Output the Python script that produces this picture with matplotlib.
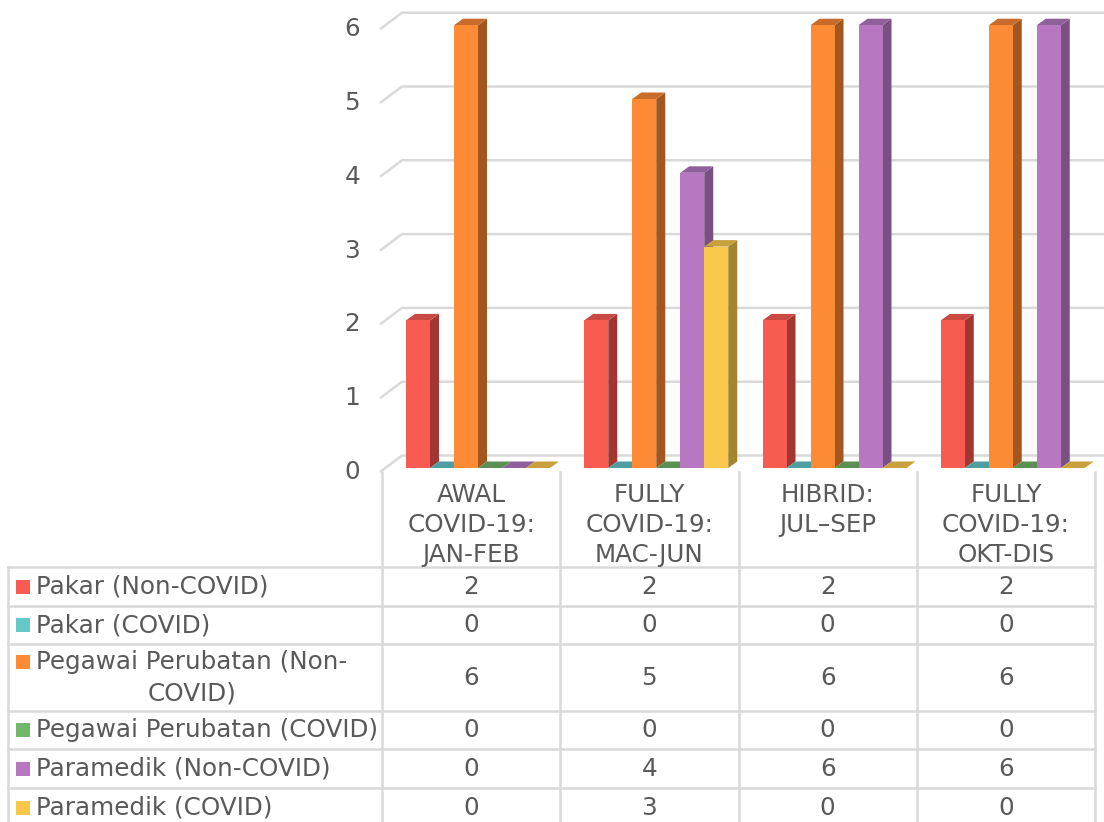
import matplotlib
matplotlib.use("Agg")
import matplotlib.pyplot as plt
from matplotlib.patches import Polygon, Rectangle

# ---------------- data ----------------
categories = ["AWAL\nCOVID-19:\nJAN-FEB", "FULLY\nCOVID-19:\nMAC-JUN",
              "HIBRID:\nJUL–SEP", "FULLY\nCOVID-19:\nOKT-DIS"]
series_names = ["Pakar (Non-COVID)", "Pakar (COVID)",
                "Pegawai Perubatan (Non-\nCOVID)", "Pegawai Perubatan (COVID)",
                "Paramedik (Non-COVID)", "Paramedik (COVID)"]
pakar_non = [2, 2, 2, 2]
pakar_cov = [0, 0, 0, 0]
pegawai_non = [6, 5, 6, 6]
pegawai_cov = [0, 0, 0, 0]
paramedik_non = [0, 4, 6, 6]
paramedik_cov = [0, 3, 0, 0]
y_ticks = [0, 1, 2, 3, 4, 5, 6]

series_values = [pakar_non, pakar_cov, pegawai_non, pegawai_cov, paramedik_non, paramedik_cov]

# ---------------- style ----------------
front_cols = ["#F75B52", "#66C7C8", "#FD8B36", "#73B86A", "#B778C1", "#F9C74C"]
side_cols = ["#A23731", "#3F8A8B", "#A3561F", "#4D7F47", "#7A4F82", "#A4842F"]
top_cols = ["#C84A42", "#4D9FA1", "#C86B2B", "#5B9053", "#8F609A", "#C8A13C"]
text_col = "#595959"
grid_col = "#D9D9D9"
FS = 17.7
plt.rcParams["font.family"] = ["DejaVu Sans"]

W, H = 1104, 822
fig = plt.figure(figsize=(W / 100, H / 100), dpi=100)

# chart axes: x 0..4 -> px 382..1095 ; y 0 -> px 468, 73.8 px / unit
px_x0, px_x1 = 382, 1095
px_y0 = 468
sx = (px_x1 - px_x0) / 4.0
sy = 73.8
ymax = px_y0 / sy
ax = fig.add_axes([px_x0 / W, (H - px_y0) / H, (px_x1 - px_x0) / W, px_y0 / H])
ax.set_xlim(0, 4)
ax.set_ylim(0, ymax)
ax.axis("off")

def dxp(p):
    return p / sx

def dyp(p):
    return p / sy

# gridlines (front-left slant + back wall)
for v in y_ticks:
    fx, fy = dxp(380 - px_x0), v - dyp(4)
    bx, by = dxp(402 - px_x0), v + dyp(12.5)
    ax.plot([fx, bx, 4.3], [fy, by, by], color=grid_col, lw=1.8,
            solid_capstyle="butt", clip_on=False, zorder=1)
    ax.text(dxp(360 - px_x0), fy, str(v), ha="right", va="center",
            fontsize=FS, color=text_col, clip_on=False)

# bars
slot = dxp(24)
bdx, bdy = dxp(9), dyp(6.5)
for i, vals in enumerate(series_values):
    xs = [c + dxp(24) + slot * i for c in range(len(categories))]
    ax.bar(xs, vals, width=slot, align="edge", color=front_cols[i],
           linewidth=0, zorder=3 + 2 * i)
    for x, h in zip(xs, vals):
        side = Polygon([(x + slot, 0), (x + slot + bdx, bdy), (x + slot + bdx, h + bdy),
                        (x + slot, h)], closed=True, facecolor=side_cols[i],
                       edgecolor="none", zorder=2 + 2 * i)
        top = Polygon([(x, h), (x + slot, h), (x + slot + bdx, h + bdy), (x + bdx, h + bdy)],
                      closed=True, facecolor=top_cols[i], edgecolor="none", zorder=2 + 2 * i)
        ax.add_patch(side)
        ax.add_patch(top)

# ---------------- data table (pixel overlay) ----------------
tax = fig.add_axes([0, 0, 1, 1])
tax.set_xlim(0, W)
tax.set_ylim(H, 0)
tax.axis("off")

col_edges = [382 + sx * k for k in range(5)]
row_edges = [567, 606, 644, 711, 749, 788, 827]
lw_t = 1.8
# vertical lines
tax.plot([8, 8], [567, H], color=grid_col, lw=lw_t)
for xe in col_edges:
    tax.plot([xe, xe], [472, H], color=grid_col, lw=lw_t)
for ye in row_edges[:-1]:
    tax.plot([8, col_edges[-1]], [ye, ye], color=grid_col, lw=lw_t)

# category labels
for c, lab in enumerate(categories):
    cx = (col_edges[c] + col_edges[c + 1]) / 2
    for k, line in enumerate(lab.split("\n")):
        tax.text(cx, 495 + 30 * k, line, ha="center", va="center",
                 fontsize=FS, color=text_col)

# rows
fig.canvas.draw()
renderer = fig.canvas.get_renderer()
for r, (name, vals) in enumerate(zip(series_names, series_values)):
    y_top, y_bot = row_edges[r], row_edges[r + 1]
    yc = (y_top + y_bot) / 2
    lines = name.split("\n")
    y_first = yc - 15.5 * (len(lines) - 1)
    tax.add_patch(Rectangle((16, y_first - 7), 14, 14, facecolor=front_cols[r],
                            edgecolor="none"))
    t0 = tax.text(36, y_first, lines[0], ha="left", va="center", fontsize=FS,
                  color=text_col)
    if len(lines) > 1:
        bb = t0.get_window_extent(renderer)
        wpx = bb.width
        for k, line in enumerate(lines[1:], start=1):
            tax.text(36 + wpx / 2, y_first + 31 * k, line, ha="center", va="center",
                     fontsize=FS, color=text_col)
    for c, v in enumerate(vals):
        cx = (col_edges[c] + col_edges[c + 1]) / 2
        tax.text(cx, yc, str(v), ha="center", va="center", fontsize=FS, color=text_col)

fig.savefig("out.png", dpi=100, facecolor="white")
